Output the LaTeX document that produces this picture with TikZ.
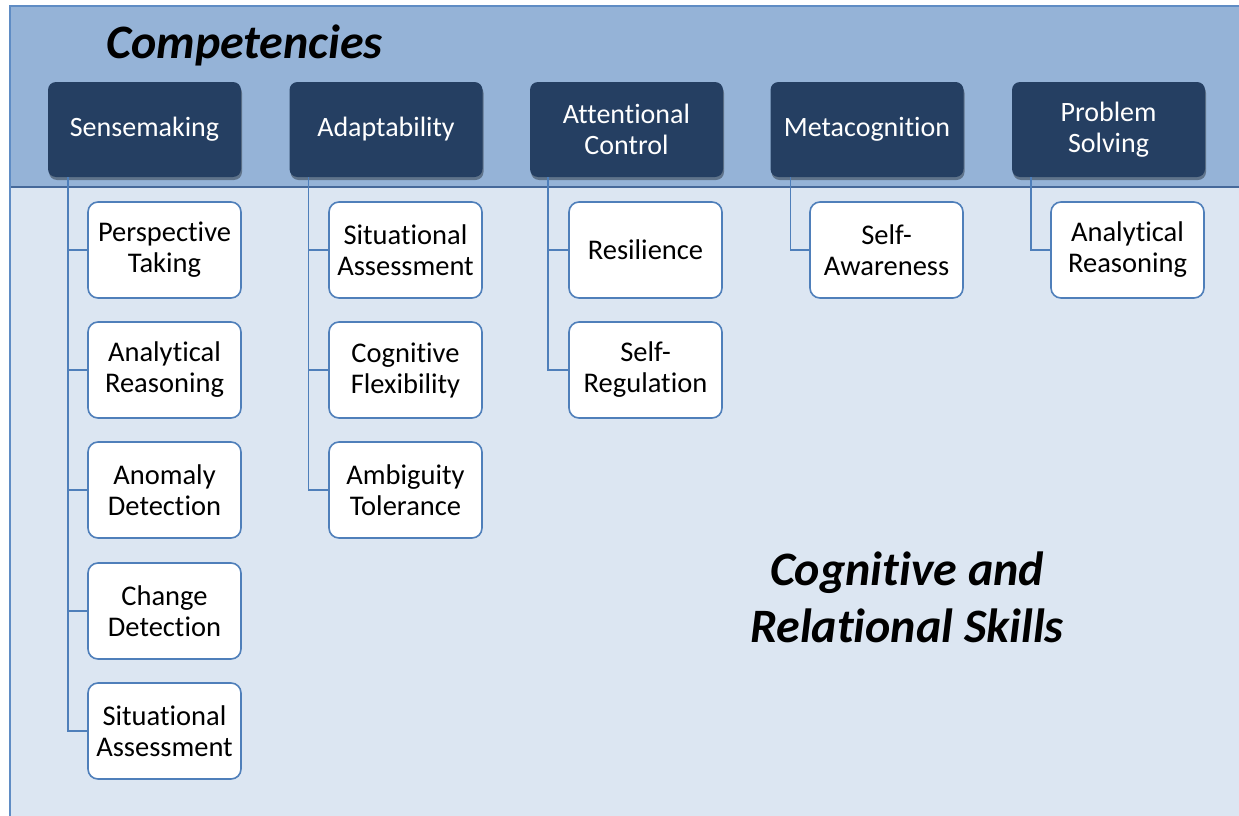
\documentclass[tikz,border=0pt]{standalone}
\usepackage{fontspec}
\setmainfont[Ligatures={NoCommon}]{Carlito}
\usetikzlibrary{shadows}
\definecolor{bandc}{HTML}{95B3D7}
\definecolor{lowc}{HTML}{DCE6F2}
\definecolor{framec}{HTML}{5F8CC4}
\definecolor{sepc}{HTML}{46699A}
\definecolor{headc}{HTML}{253F62}
\definecolor{linec}{HTML}{4F7FBA}
\tikzset{
  head/.style={draw=none, fill=headc, rounded corners=8pt, minimum width=193pt, minimum height=95pt,
    text=white, align=center, font=\fontsize{28}{31}\selectfont, inner sep=0pt,
    drop shadow={shadow xshift=1pt, shadow yshift=-3pt, opacity=0.35, fill=black}},
  child/.style={draw=linec, line width=1.6pt, fill=white, rounded corners=10pt, minimum width=153pt, minimum height=96pt,
    text=black, align=center, font=\fontsize{28.5}{31}\selectfont, inner sep=0pt},
  conn/.style={draw=linec, line width=1.5pt},
  title/.style={font=\fontsize{48}{57}\selectfont\bfseries\itshape, align=center, inner sep=0pt}
}
\begin{document}
\begin{tikzpicture}[x=1pt,y=-1pt]
\useasboundingbox (0,0) rectangle (1239,816);
\begin{scope}
\clip (0,0) rectangle (1239,816);
\fill[white] (0,0) rectangle (1239,816);
\fill[lowc] (10,6) rectangle (1270,850);
\fill[bandc] (10,6) rectangle (1270,187);
\draw[sepc, line width=2pt] (10,187) -- (1270,187);
\draw[framec, line width=1.5pt] (10,850) -- (10,6) -- (1270,6);
\end{scope}

\node[title, anchor=west] (t1) at (106,45) {Competencies};
\node[title] (t2) at (907,597) {Cognitive and\\Relational Skills};

\node[head] (h1) at (144.5,129.5) {Sensemaking};
\node[head] (h2) at (386,129.5) {Adaptability};
\node[head] (h3) at (626.5,129.5) {Attentional\\Control};
\node[head] (h4) at (867,129.5) {Metacognition};
\node[head] (h5) at (1108.5,129.5) {Problem\\Solving};

\node[child] (c11) at (164.5,250) {Perspective\\Taking};
\node[child] (c12) at (164.5,370) {Analytical\\Reasoning};
\node[child] (c13) at (164.5,490) {Anomaly\\Detection};
\node[child] (c14) at (164.5,611) {Change\\Detection};
\node[child] (c15) at (164.5,731) {Situational\\Assessment};

\node[child] (c21) at (405.5,250) {Situational\\Assessment};
\node[child] (c22) at (405.5,370) {Cognitive\\Flexibility};
\node[child] (c23) at (405.5,490) {Ambiguity\\Tolerance};

\node[child] (c31) at (645.5,250) {Resilience};
\node[child] (c32) at (645.5,370) {Self-\\Regulation};

\node[child] (c41) at (886.5,250) {Self-\\Awareness};

\node[child] (c51) at (1127.5,250) {Analytical\\Reasoning};

\foreach \c in {c11,c12,c13,c14,c15}
  \draw[conn] ([xshift=20pt]h1.south west) |- (\c.west);
\foreach \c in {c21,c22,c23}
  \draw[conn] ([xshift=19pt]h2.south west) |- (\c.west);
\foreach \c in {c31,c32}
  \draw[conn] ([xshift=18pt]h3.south west) |- (\c.west);
\draw[conn] ([xshift=20pt]h4.south west) |- (c41.west);
\draw[conn] ([xshift=19pt]h5.south west) |- (c51.west);
\end{tikzpicture}
\end{document}
